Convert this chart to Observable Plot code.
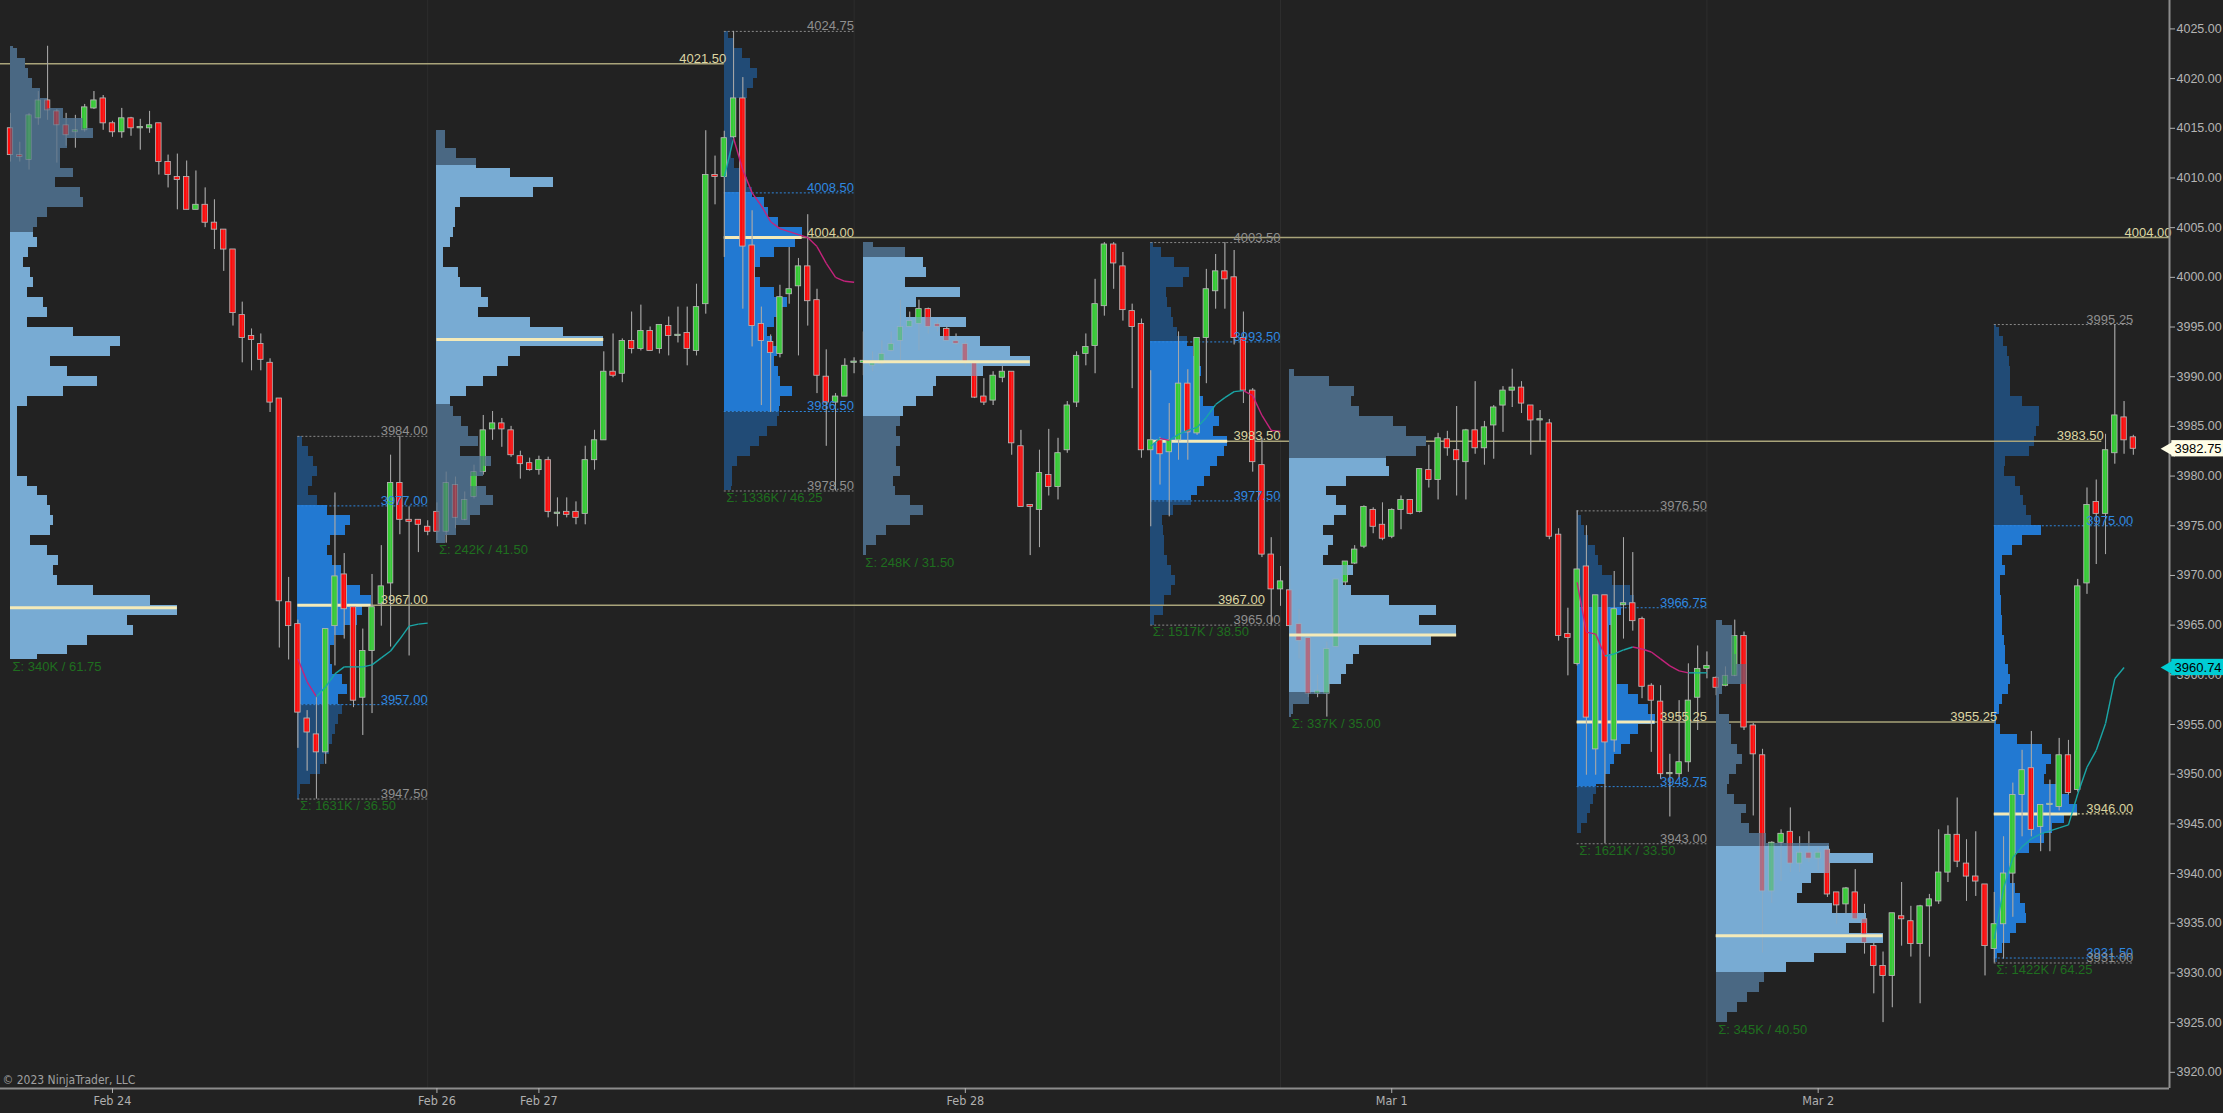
<!DOCTYPE html>
<html><head><meta charset="utf-8">
<script src="https://cdn.jsdelivr.net/npm/d3@7"></script>
<script src="https://cdn.jsdelivr.net/npm/@observablehq/plot@0.6"></script>
<style>
html,body{margin:0;padding:0;background:#222222;}
#chart{width:2223px;height:1113px;overflow:hidden;}
</style></head><body><div id="chart"></div>
<script>
// ---------- 30-minute ES bars (index = bar number) ----------
const open = [
4015.0,4012.3,4011.8,4016.0,4017.8,4016.7,4015.3,4014.6,4014.8,4017.0,
4018.0,4015.5,4014.6,4016.0,4015.0,4015.0,4015.5,4011.6,4010.1,4010.1,
4006.8,4007.3,4005.5,4004.8,4002.8,3996.2,3994.1,3993.3,3991.4,3987.8,
3967.3,3965.1,3955.6,3954.0,3952.2,3964.9,3970.1,3966.8,3957.7,3962.4,
3967.1,3969.2,3979.3,3975.6,3975.6,3974.9,3976.4,3974.4,3979.1,3975.6,
3977.9,3980.4,3984.7,3985.3,3984.6,3982.0,3981.3,3980.6,3981.6,3976.2,
3976.4,3976.4,3976.2,3981.6,3983.6,3990.5,3990.3,3993.6,3992.8,3994.6,
3992.8,3995.1,3994.1,3994.4,3992.6,3997.3,4010.3,4010.1,4014.1,4018.0,
4003.2,3995.3,3993.5,3992.3,3998.3,3999.1,4001.1,3997.7,3990.0,3987.4,
3988.0,3991.4,3991.4,3991.1,3991.3,3992.6,3993.6,3995.0,3995.3,3996.8,
3995.3,3994.8,3993.6,3993.3,3991.4,3988.0,3987.6,3989.9,3990.5,3983.0,
3977.1,3976.6,3980.1,3978.9,3982.6,3987.4,3992.3,3993.1,3997.1,4003.3,
4001.1,3996.6,3995.3,3982.6,3983.6,3982.4,3983.6,3989.3,3984.3,3993.9,
3998.6,4000.6,4000.0,3993.9,3988.6,3981.1,3972.1,3968.6,3968.5,3965.1,
3963.7,3958.1,3958.1,3962.8,3969.3,3971.2,3972.9,3976.6,3975.1,3973.9,
3976.6,3977.6,3976.4,3980.6,3979.6,3983.7,3982.6,3981.4,3984.6,3982.8,
3985.1,3987.1,3988.6,3988.9,3987.1,3985.6,3985.3,3974.1,3964.1,3961.1,
3970.9,3952.5,3968.0,3953.4,3967.0,3967.2,3965.6,3958.9,3957.3,3950.0,
3950.0,3951.2,3957.7,3960.6,3959.7,3958.9,3959.9,3963.9,3954.9,3951.9,
3938.2,3943.1,3944.2,3941.0,3942.1,3941.5,3942.4,3938.1,3936.9,3938.1,
3935.4,3932.7,3930.7,3929.7,3935.7,3935.2,3932.9,3936.7,3937.2,3940.1,
3943.9,3941.0,3939.7,3938.9,3932.4,3934.9,3940.0,3947.9,3950.6,3944.7,
3946.9,3946.7,3951.9,3948.4,3969.2,3977.4,3976.2,3982.3,3985.9,3983.9];
const high = [
4016.5,4013.6,4016.5,4018.7,4023.25,4016.9,4016.5,4016.3,4017.4,4018.7,
4018.3,4015.7,4017.0,4016.1,4015.9,4016.7,4015.5,4012.3,4012.4,4011.7,
4010.7,4009.0,4007.8,4004.8,4002.8,3997.5,3994.8,3994.3,3991.8,3987.8,
3969.8,3965.5,3956.4,3957.7,3964.6,3978.3,3972.2,3966.8,3964.6,3970.1,
3973.0,3982.1,3984.0,3976.9,3975.6,3975.5,3977.3,3980.4,3979.9,3978.4,
3981.1,3986.1,3986.5,3985.8,3985.0,3982.5,3981.8,3982.0,3981.9,3977.8,
3977.8,3977.4,3983.0,3984.6,3992.5,3994.3,3993.8,3996.5,3997.2,3995.0,
3995.2,3996.0,3997.0,3997.0,3999.3,4014.75,4012.2,4014.7,4024.75,4020.1,
4006.7,3997.0,3994.2,3999.2,4003.0,4001.9,4006.3,3998.8,3992.7,3988.3,
3991.8,3991.9,3994.5,3992.5,3993.6,3994.5,3997.7,3996.5,3997.7,3996.9,
3995.8,3995.2,3994.3,3993.7,3991.4,3989.8,3990.5,3991.2,3990.5,3984.6,
3977.1,3982.6,3984.7,3983.8,3987.5,3992.5,3994.3,3999.8,4003.5,4003.5,
4002.5,3997.3,3995.8,3990.6,3983.9,3987.3,3994.5,3990.7,3993.9,4000.8,
4002.3,4003.5,4002.7,3996.5,3988.8,3983.8,3973.8,3970.9,3970.7,3966.6,
3963.7,3960.0,3963.3,3969.6,3971.4,3973.0,3977.0,3976.8,3977.3,3976.7,
3978.0,3977.6,3980.7,3983.1,3984.3,3984.5,3987.0,3984.7,3989.5,3985.5,
3987.1,3989.0,3990.75,3989.5,3987.1,3986.6,3985.7,3974.7,3966.7,3976.5,
3975.0,3968.0,3968.0,3970.4,3973.8,3972.3,3965.8,3959.1,3958.9,3952.0,
3957.4,3961.1,3962.9,3962.3,3959.8,3960.8,3965.5,3964.3,3955.1,3952.5,
3943.2,3944.4,3946.6,3943.7,3944.2,3942.6,3942.8,3938.1,3938.6,3940.4,
3936.9,3933.1,3932.1,3936.0,3939.1,3936.7,3936.8,3937.9,3944.4,3944.8,
3947.6,3943.4,3944.2,3938.9,3938.1,3943.7,3949.1,3952.4,3954.3,3946.9,
3949.4,3953.6,3953.4,3969.6,3978.8,3979.6,3984.2,3995.25,3987.5,3984.1];
const low = [
4011.6,4011.6,4010.8,4015.3,4015.8,4011.5,4013.2,4013.0,4014.6,4016.9,
4014.8,4014.1,4014.0,4014.2,4012.8,4014.5,4010.3,4009.0,4006.8,4006.8,
4006.8,4005.0,4002.8,4000.6,3995.1,3991.4,3990.6,3990.6,3986.4,3962.7,
3961.5,3952.6,3950.3,3947.5,3951.0,3960.9,3963.6,3956.7,3953.9,3956.1,
3964.9,3962.8,3974.1,3961.9,3972.3,3974.0,3973.5,3973.25,3974.7,3975.5,
3977.7,3980.1,3983.6,3982.9,3981.9,3979.7,3980.5,3980.1,3975.8,3974.9,
3975.8,3975.1,3975.1,3980.6,3983.6,3989.9,3989.4,3992.3,3992.6,3992.6,
3992.3,3992.1,3993.4,3991.1,3992.1,3996.3,4007.3,4002.0,4013.8,3996.8,
3993.0,3987.1,3986.4,3991.9,3997.3,3992.1,3995.1,3988.3,3983.0,3978.5,
3988.0,3990.3,3990.1,3990.5,3991.1,3992.5,3991.6,3995.0,3992.6,3994.3,
3994.5,3993.6,3993.1,3991.0,3987.8,3987.1,3987.1,3989.4,3982.1,3976.9,
3972.0,3972.8,3978.0,3977.6,3982.3,3986.9,3991.1,3990.3,3996.1,3998.8,
3995.6,3988.8,3981.8,3974.9,3979.1,3975.9,3981.6,3981.6,3984.1,3989.3,
3996.8,3996.8,3993.2,3987.3,3980.4,3971.8,3965.0,3966.9,3964.7,3961.6,
3957.7,3957.7,3955.75,3962.7,3968.6,3971.1,3972.7,3974.2,3973.5,3973.7,
3974.6,3976.1,3976.3,3978.8,3977.6,3982.0,3978.0,3977.6,3982.2,3981.1,
3981.7,3984.4,3986.9,3986.3,3982.1,3983.4,3973.6,3963.4,3959.9,3960.9,
3949.9,3949.9,3943.0,3952.2,3963.6,3964.4,3957.6,3952.2,3949.5,3945.7,
3949.6,3950.2,3954.4,3959.6,3957.9,3958.8,3959.8,3954.4,3945.8,3932.0,
3937.0,3939.2,3940.1,3940.1,3941.1,3940.3,3937.6,3934.9,3935.9,3935.3,
3931.9,3927.9,3925.0,3926.5,3932.7,3931.6,3926.9,3931.6,3936.9,3939.1,
3940.6,3937.2,3937.7,3929.7,3931.0,3931.4,3935.6,3943.7,3943.7,3942.2,
3942.2,3946.3,3947.9,3948.2,3968.1,3971.1,3972.1,3981.2,3982.2,3982.1];
const close = [
4012.3,4012.1,4016.3,4017.8,4016.8,4015.3,4014.3,4014.8,4017.1,4017.8,
4015.5,4014.6,4016.0,4015.0,4015.0,4015.3,4011.6,4010.3,4009.8,4006.8,
4007.3,4005.5,4004.8,4002.8,3996.4,3993.9,3993.7,3991.7,3987.4,3967.4,
3964.9,3956.2,3954.2,3952.2,3964.6,3969.9,3966.6,3957.4,3962.4,3966.8,
3968.9,3979.3,3975.6,3975.4,3975.1,3974.4,3974.4,3979.3,3975.8,3977.6,
3980.4,3984.6,3985.3,3984.7,3982.1,3981.2,3980.6,3981.6,3976.4,3976.2,
3976.1,3975.8,3981.6,3983.6,3990.5,3990.1,3993.6,3992.8,3994.6,3992.6,
3995.2,3994.1,3994.1,3992.8,3997.0,4010.3,4010.1,4014.0,4018.0,4003.1,
3995.1,3993.6,3992.4,3998.0,3998.8,4001.1,3997.6,3990.1,3987.4,3988.0,
3991.1,3991.4,3991.6,3991.5,3992.3,3993.3,3995.0,3995.6,3996.8,3995.0,
3995.0,3993.6,3993.3,3991.5,3987.9,3987.4,3990.1,3990.5,3983.3,3976.9,
3976.9,3980.3,3978.9,3982.3,3987.1,3992.1,3993.0,3997.3,4003.3,4001.4,
3996.7,3995.0,3982.6,3983.6,3982.2,3983.6,3989.3,3984.4,3993.9,3998.8,
4000.6,3999.8,3993.9,3988.6,3981.4,3972.1,3968.6,3969.4,3964.9,3963.4,
3958.1,3958.4,3962.6,3969.6,3971.4,3972.6,3976.9,3974.9,3973.7,3976.6,
3977.6,3976.2,3980.7,3979.6,3983.8,3982.8,3981.6,3984.6,3982.8,3984.9,
3986.9,3988.6,3988.9,3987.3,3985.6,3985.6,3973.9,3963.9,3963.7,3970.6,
3955.7,3968.0,3953.2,3966.6,3967.2,3965.4,3958.8,3957.4,3950.0,3950.0,
3951.2,3957.4,3960.6,3960.9,3958.7,3959.9,3963.9,3954.7,3952.0,3938.2,
3943.1,3944.0,3941.0,3942.1,3941.5,3942.1,3937.9,3936.8,3938.5,3935.4,
3933.0,3930.7,3929.7,3936.0,3935.4,3932.9,3936.7,3937.4,3940.1,3943.9,
3941.2,3939.7,3939.2,3932.7,3934.9,3940.0,3947.9,3950.4,3944.4,3946.9,
3946.9,3951.9,3948.1,3968.9,3977.1,3976.2,3982.6,3986.1,3983.6,3982.75];

// ---------- axis ticks ----------
const xTickBars = [11, 46, 57, 103, 149, 195];
const xTickLabels = ["Feb 24", "Feb 26", "Feb 27", "Feb 28", "Mar 1", "Mar 2"];
const yTicks = [3920,3925,3930,3935,3940,3945,3950,3955,3960,3965,3970,3975,3980,3985,3990,3995,4000,4005,4010,4015,4020,4025];

// ---------- ETH (overnight) volume profiles: % of POC volume per 1-pt row, top row first ----------
const ethStart  = [0, 46, 92, 138, 184];
const ethHigh   = [4023.25, 4014.75, 4003.50, 3990.75, 3965.50];
const ethLow    = [3961.50, 3973.25, 3972.00, 3955.75, 3925.00];
const ethPOC    = [3966.75, 3993.75, 3991.50, 3964.00, 3933.75];
const ethVAH    = [4004.50, 4011.25, 4002.00, 3981.75, 3942.75];
const ethVAL    = [3961.50, 3987.25, 3986.00, 3958.25, 3930.00];
const ethVolume = ["340K", "242K", "248K", "337K", "345K"];
const eth1Vol = [2,4,9,11,13,18,22,32,44,50,34,30,30,38,27,42,44,22,16,14,16,11,8,12,14,10,20,22,10,38,66,60,24,34,52,32,10,4,4,4,4,4,4,4,10,16,22,24,26,24,12,22,29,26,28,50,84,100,70,74,46,34,16];
const eth2Vol = [5,5,12,24,44,70,58,14,11,11,10,8,4,4,13,14,27,31,25,56,76,100,50,43,36,28,18,8,10,15,19,25,14,33,28,20,30,34,26,20,12,5];
const eth3Vol = [6,25,36,38,25,58,32,26,62,46,70,88,100,72,44,42,32,24,22,20,22,20,20,22,18,19,28,36,28,14,8,2];
const eth4Vol = [3,24,39,37,42,62,70,82,76,58,60,34,22,28,34,27,20,26,23,20,38,32,37,60,88,78,100,85,42,38,34,31,24,12,2,1];
const eth5Vol = [4,10,11,11,12,18,18,4,2,2,8,9,9,13,16,12,8,7,11,18,15,20,30,68,94,68,57,52,49,70,90,80,100,78,59,42,29,26,19,13,7];

// ---------- RTH (day session) volume profiles ----------
const rthStart  = [31, 77, 123, 169, 214];
const rthEnd    = [45, 91, 137, 183, 229];
const rthHigh   = [3984.00, 4024.75, 4003.50, 3976.50, 3995.25];
const rthVAH    = [3977.00, 4008.50, 3993.50, 3966.75, 3975.00];
const rthPOC    = [3967.00, 4004.00, 3983.50, 3955.25, 3946.00];
const rthVAL    = [3957.00, 3986.50, 3977.50, 3948.75, 3931.50];
const rthLow    = [3947.50, 3978.50, 3965.00, 3943.00, 3931.00];
const rthVolume = ["1631K", "1336K", "1517K", "1621K", "1422K"];
const rth1Vol = [6,15,22,27,20,15,27,40,72,65,45,40,47,59,63,86,100,88,82,63,50,45,45,47,61,68,56,61,56,52,47,43,36,31,17,4,2];
const rth2Vol = [6,13,23,34,43,38,30,15,13,11,13,11,9,13,21,30,36,51,57,70,100,92,64,47,40,47,64,81,74,64,56,62,68,64,70,72,87,72,71,68,55,45,34,17,10,10,9];
const rth3Vol = [4,14,31,50,42,20,22,27,29,35,48,55,61,66,61,61,68,83,89,81,100,96,87,78,70,61,53,30,15,16,18,18,22,27,32,27,18,16,5];
const rth4Vol = [2,6,10,15,23,27,33,46,68,74,57,48,42,41,42,44,46,51,66,79,91,100,79,68,57,48,43,37,25,21,17,13,6,1];
const rth5Vol = [3,6,11,16,18,19,19,20,34,54,54,51,48,42,14,12,26,32,35,39,45,56,34,22,10,14,8,8,9,9,10,10,12,13,14,17,19,17,10,6,3,8,28,58,69,62,60,78,90,100,84,70,60,42,26,18,20,26,32,37,38,27,20,10,4];

// ---------- session VWAP (one value per RTH bar) ----------
const vwap1 = [3961.6,3959.3,3957.8,3958.8,3960.1,3960.8,3960.8,3960.8,3961.0,3961.7,3962.4,3963.6,3964.9,3965.1,3965.2];
const vwap2 = [4010.1,4014.0,4010.8,4008.5,4007.2,4005.6,4004.9,4004.6,4004.3,4004.0,4003.1,4001.4,4000.0,3999.6,3999.5];
const vwap3 = [3983.0,3983.8,3983.6,3984.2,3984.6,3984.9,3985.9,3987.2,3987.9,3988.5,3988.6,3988.1,3986.1,3984.6,3984.5];
const vwap4 = [3969.3,3964.3,3964.1,3961.9,3962.1,3962.5,3962.8,3962.6,3962.3,3961.6,3960.9,3960.4,3960.2,3960.2,3960.2];
const vwap5 = [3933.4,3938.5,3941.6,3942.7,3943.5,3944.0,3944.3,3944.6,3944.9,3948.0,3950.7,3952.4,3955.1,3959.6,3960.74];

// ---------- naked (untested) POC lines ----------
const nakedPrice = [4021.50, 3967.00, 4004.00, 3983.50, 3955.25];
const nakedFrom  = [-1.08, 31, 77, 123, 169];
const nakedTo    = [77, 135.1, 232.9, 225.6, 214.1];

const lastPrice = 3982.75;
const lastVWAP = 3960.74;

// ================= build =================
const xMin = -1.08, xMax = 232.9, yMin = 3918.37, yMax = 4027.86;
const ETH_W = 18;                      // POC row width in bars
const RTH_W = [7.9, 8.4, 8.3, 8.4, 9.0];

const bars = open.map((o, i) => {
  let b0 = Math.min(o, close[i]), b1 = Math.max(o, close[i]);
  if (b1 - b0 < 0.12) b1 = b0 + 0.12;
  return {i, o, h: high[i], l: low[i], c: close[i], b0, b1, up: close[i] >= o};
});

function profileRows(start, vols, hi, lo, vah, val, width) {
  const out = [];
  const top = Math.floor(hi - 1e-9);
  vols.forEach((v, j) => {
    const p = top - j;
    const y1 = Math.max(p, lo), y2 = Math.min(p + 1, hi);
    const x2 = start + v / 100 * width;
    const segs = [[y1, Math.min(y2, val), false], [Math.max(y1, val), Math.min(y2, vah), true], [Math.max(y1, vah), y2, false]];
    for (const [a, b, inVA] of segs) if (b > a + 1e-9) out.push({x1: start, x2, y1: a, y2: b, inVA});
  });
  return out;
}
const ethVols = [eth1Vol, eth2Vol, eth3Vol, eth4Vol, eth5Vol];
const rthVols = [rth1Vol, rth2Vol, rth3Vol, rth4Vol, rth5Vol];
const ethRows = ethVols.flatMap((v, k) => profileRows(ethStart[k], v, ethHigh[k], ethLow[k], ethVAH[k], ethVAL[k], ETH_W));
const rthRows = rthVols.flatMap((v, k) => profileRows(rthStart[k], v, rthHigh[k], rthLow[k], rthVAH[k], rthVAL[k], RTH_W[k]));

const vwaps = [vwap1, vwap2, vwap3, vwap4, vwap5];
const vwSegs = [];
vwaps.forEach((vals, k) => {
  for (let j = 1; j < vals.length; j++)
    vwSegs.push({x1: rthStart[k] + j - 1, x2: rthStart[k] + j, y1: vals[j - 1], y2: vals[j], up: vals[j] >= vals[j - 1]});
});

const fmt = d3.format(".2f");
const rthLevelLines = [];
const rthLabels = [];
rthStart.forEach((s, k) => {
  const e = rthEnd[k];
  rthLevelLines.push({y: rthHigh[k], x1: s, x2: e, c: "#8a8a8a"});
  rthLevelLines.push({y: rthLow[k], x1: s, x2: e, c: "#8a8a8a"});
  rthLevelLines.push({y: rthVAH[k], x1: s, x2: e, c: "#2f86dc"});
  rthLevelLines.push({y: rthVAL[k], x1: s, x2: e, c: "#2f86dc"});
  rthLabels.push({x: e, y: rthHigh[k], t: fmt(rthHigh[k]), c: "#8f8f8f"});
  rthLabels.push({x: e, y: rthVAH[k], t: fmt(rthVAH[k]), c: "#2f88e0"});
  rthLabels.push({x: e, y: rthPOC[k], t: fmt(rthPOC[k]), c: "#d9d29e"});
  rthLabels.push({x: e, y: rthVAL[k], t: fmt(rthVAL[k]), c: "#2f88e0"});
  rthLabels.push({x: e, y: rthLow[k], t: fmt(rthLow[k]), c: "#8f8f8f"});
});
const nakedLabels = nakedPrice.map((p, k) => ({x: nakedTo[k], y: p, t: fmt(p)}));

const sigma = [
  ...ethStart.map((s, k) => ({x: s, y: ethLow[k], t: `Σ: ${ethVolume[k]} / ${fmt(ethHigh[k] - ethLow[k])}`})),
  ...rthStart.map((s, k) => ({x: s, y: rthLow[k], t: `Σ: ${rthVolume[k]} / ${fmt(rthHigh[k] - rthLow[k])}`}))
];
const pocBars = [
  ...ethStart.map((s, k) => ({y: ethPOC[k], x1: s, x2: s + ETH_W})),
];
const rthPocBars = rthStart.map((s, k) => ({y: rthPOC[k], x1: s, x2: s + RTH_W[k]}));
const separators = [45, 91, 137, 183];

const tags = [
  {y: lastPrice, fill: "#fffde6", t: fmt(lastPrice)},
  {y: lastVWAP, fill: "#00cdd4", t: fmt(lastVWAP)}
];

const candleMarks = (op) => [
  Plot.ruleX(bars, {x: "i", y1: "l", y2: "h", stroke: "#a8a8a8", strokeWidth: 1, strokeOpacity: op}),
  Plot.rect(bars, {x1: d => d.i - 0.29, x2: d => d.i + 0.29, y1: "b0", y2: "b1",
    fill: d => d.up ? "#33cc33" : "#ff0a0a", stroke: "#b8b8b8", strokeWidth: 0.8, opacity: op})
];

const chart = Plot.plot({
  width: 2223, height: 1113,
  marginLeft: 0, marginRight: 54, marginTop: 0, marginBottom: 25,
  x: {domain: [xMin, xMax], axis: null},
  y: {domain: [yMin, yMax], axis: null},
  style: {background: "#222222", color: "#aaaaaa", fontFamily: "Liberation Sans, Arial, sans-serif", fontSize: "12px", overflow: "visible"},
  marks: [
    Plot.ruleX(separators, {stroke: "#2d2d2d", strokeWidth: 1}),
    // RTH profiles (under candles)
    Plot.rect(rthRows, {x1: "x1", x2: "x2", y1: "y1", y2: "y2", fill: d => d.inVA ? "#2279d2" : "#214b76", shapeRendering: "crispEdges"}),
    // naked POC lines
    Plot.ruleY(nakedPrice.map((p, k) => ({y: p, x1: nakedFrom[k], x2: nakedTo[k]})), {y: "y", x1: "x1", x2: "x2", stroke: "#a9a47a", strokeWidth: 1.5}),
    // RTH level lines (dotted)
    Plot.ruleY(rthLevelLines, {y: "y", x1: "x1", x2: "x2", stroke: "c", strokeWidth: 1, strokeDasharray: "2,2"}),
    Plot.ruleY([{y: rthPOC[4], x1: rthStart[4], x2: rthEnd[4]}], {y: "y", x1: "x1", x2: "x2", stroke: "#c9c28f", strokeWidth: 1.2, strokeDasharray: "2,2"}),
    Plot.ruleY(rthPocBars, {y: "y", x1: "x1", x2: "x2", stroke: "#f4eab8", strokeWidth: 3}),
    // candles
    ...candleMarks(1),
    // ETH profiles (over candles), then candles faded through them
    Plot.rect(ethRows, {x1: "x1", x2: "x2", y1: "y1", y2: "y2", fill: d => d.inVA ? "#78abd3" : "#4a6883", shapeRendering: "crispEdges"}),
    ...candleMarks(0.38),
    Plot.ruleY(pocBars, {y: "y", x1: "x1", x2: "x2", stroke: "#f4eab8", strokeWidth: 3}),
    // VWAP
    Plot.link(vwSegs, {x1: "x1", y1: "y1", x2: "x2", y2: "y2", stroke: d => d.up ? "#1aa6a6" : "#c4237c", strokeWidth: 1.4}),
    // labels
    Plot.text(rthLabels, {x: "x", y: "y", text: "t", fill: "c", textAnchor: "end", lineAnchor: "bottom", dy: -1, fontSize: 13}),
    Plot.text(nakedLabels, {x: "x", y: "y", text: "t", fill: "#ddd6a2", textAnchor: "end", lineAnchor: "bottom", dy: -1, dx: 2, fontSize: 13}),
    Plot.text(sigma, {x: "x", y: "y", text: "t", fill: "#1f6e1f", textAnchor: "start", lineAnchor: "top", dx: 2, dy: 2, fontSize: 13}),
    // axes
    Plot.ruleX([xMax], {stroke: "#8c8c8c", strokeWidth: 2}),
    Plot.ruleY([yMin], {stroke: "#8c8c8c", strokeWidth: 2}),
    Plot.axisY({anchor: "right", ticks: yTicks, tickFormat: fmt, tickSize: 5, tickPadding: 2, fontSize: 12.5, color: "#b4b4b4"}),
    Plot.axisX({anchor: "bottom", ticks: xTickBars, tickFormat: d => xTickLabels[xTickBars.indexOf(d)], tickSize: 5, tickPadding: 3, fontSize: 12.5, color: "#b0b0b0", fontFamily: "Liberation Sans Narrow, DejaVu Sans Condensed, sans-serif"}),
    Plot.text(["© 2023 NinjaTrader, LLC"], {frameAnchor: "bottom-left", textAnchor: "start", lineAnchor: "bottom", dx: 2, dy: -5, fill: "#a0a0a0", fontSize: 12, fontFamily: "Liberation Sans Narrow, DejaVu Sans Condensed, sans-serif"}),
    // right-axis price tags
    Plot.rect(tags, {x1: xMax + 0.25, x2: xMax + 6.5, y1: d => d.y - 0.82, y2: d => d.y + 0.82, fill: "fill"}),
    Plot.dot(tags, {x: xMax + 0.05, y: "y", symbol: "triangle", r: 6, rotate: -90, fill: "fill"}),
    Plot.text(tags, {x: xMax + 0.55, y: "y", text: "t", fill: "#000", textAnchor: "start", fontSize: 13})
  ]
});
document.getElementById("chart").appendChild(chart);
</script></body></html>
